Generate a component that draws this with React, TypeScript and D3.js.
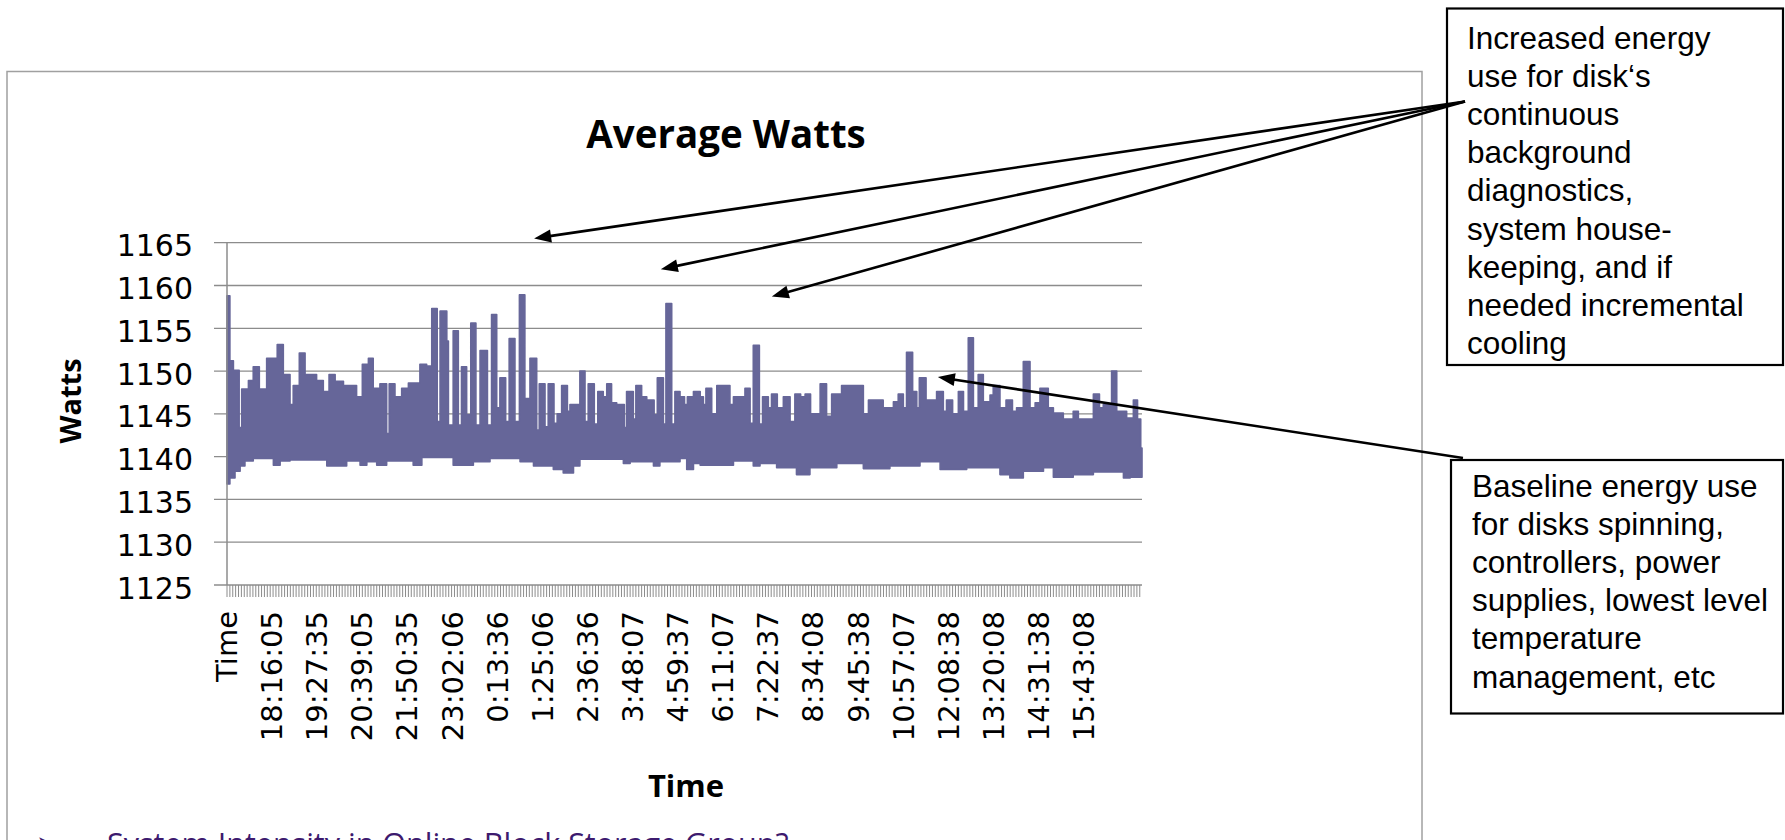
import React from 'react';
import * as d3 from 'd3';

// category axis: first category is the header "Time", then ~30 s samples
const N = 2860;
const LABEL_STEP = 141;
const TICK_STEP = 9;

const timeLabels = [
  'Time', '18:16:05', '19:27:35', '20:39:05', '21:50:35', '23:02:06', '0:13:36',
  '1:25:06', '2:36:36', '3:48:07', '4:59:37', '6:11:07', '7:22:37', '8:34:08',
  '9:45:38', '10:57:07', '12:08:38', '13:20:08', '14:31:38', '15:43:08',
];

const yTicks = [1125, 1130, 1135, 1140, 1145, 1150, 1155, 1160, 1165];

// upper envelope of the watts trace (category index where a level starts, watts)
const highStart = [
  0, 9, 20, 38, 46, 67, 82, 101, 124, 157, 176, 197, 207, 226, 244, 280, 301, 319, 338, 364,
  405, 423, 442, 457, 478, 499, 507, 525, 546, 567, 603, 624, 640, 657, 666, 687, 692, 707, 723, 733,
  749, 762, 778, 791, 814, 827, 843, 853, 871, 882, 900, 914, 931, 947, 968, 976, 994, 1004, 1022, 1032,
  1046, 1064, 1072, 1103, 1119, 1129, 1148, 1159, 1176, 1187, 1202, 1218, 1242, 1249, 1270, 1278, 1296, 1312, 1335, 1345,
  1364, 1372, 1390, 1400, 1416, 1430, 1439, 1458, 1479, 1489, 1497, 1515, 1531, 1572, 1583, 1619, 1635, 1645, 1664, 1674,
  1692, 1702, 1720, 1739, 1760, 1775, 1793, 1807, 1824, 1854, 1874, 1890, 1921, 1989, 2005, 2051, 2083, 2098, 2114, 2124,
  2143, 2156, 2164, 2185, 2218, 2239, 2249, 2268, 2286, 2302, 2317, 2333, 2348, 2364, 2385, 2395, 2416, 2435, 2455, 2468,
  2489, 2510, 2526, 2541, 2567, 2583, 2614, 2645, 2661, 2708, 2727, 2739, 2765, 2781, 2812, 2833, 2846, 2856,
];
const highVal = [
  1158.8, 1151.2, 1150.1, 1143.4, 1147.9, 1148.9, 1150.5, 1147.9, 1151.5, 1153.1, 1149.6, 1146.1, 1148.3, 1152.1, 1149.6, 1148.9, 1147.6, 1149.6, 1148.8, 1148.3,
  1147.0, 1150.8, 1151.5, 1148.0, 1148.5, 1142.7, 1148.5, 1147.0, 1148.0, 1148.6, 1150.8, 1150.6, 1157.3, 1144.1, 1157.0, 1153.5, 1143.7, 1154.7, 1143.7, 1150.5,
  1144.9, 1155.6, 1143.7, 1152.4, 1143.7, 1156.6, 1145.7, 1149.2, 1144.1, 1153.8, 1144.1, 1158.9, 1146.8, 1151.5, 1143.1, 1148.5, 1143.5, 1148.5, 1143.9, 1145.0,
  1148.3, 1145.3, 1146.1, 1150.0, 1144.1, 1148.5, 1143.8, 1147.6, 1147.0, 1148.5, 1146.3, 1146.1, 1143.4, 1147.6, 1144.4, 1148.3, 1147.0, 1146.6, 1144.9, 1149.2,
  1143.8, 1157.9, 1143.8, 1147.6, 1147.0, 1146.1, 1147.0, 1147.6, 1147.0, 1146.1, 1148.0, 1145.0, 1148.3, 1146.1, 1147.0, 1148.0, 1143.9, 1153.0, 1143.8, 1147.0,
  1145.7, 1147.3, 1145.7, 1147.0, 1144.1, 1147.3, 1147.0, 1147.3, 1145.0, 1148.5, 1144.7, 1147.3, 1148.3, 1145.0, 1146.6, 1145.7, 1146.4, 1147.3, 1145.7, 1152.2,
  1147.6, 1145.7, 1149.2, 1146.6, 1147.6, 1145.3, 1146.6, 1145.0, 1147.6, 1145.3, 1153.9, 1145.7, 1149.6, 1146.4, 1147.2, 1148.3, 1145.7, 1146.6, 1145.3, 1145.7,
  1151.1, 1145.7, 1146.3, 1148.0, 1145.7, 1145.1, 1144.4, 1145.3, 1144.4, 1147.3, 1145.7, 1146.1, 1150.0, 1145.3, 1144.5, 1146.6, 1144.4, 1141.0,
];

// lower envelope
const lowStart = [
  0, 9, 25, 41, 56, 82, 145, 166, 197, 312, 374, 416, 437, 468, 499, 582, 609, 707, 770, 822,
  916, 958, 1020, 1051, 1083, 1103, 1239, 1260, 1333, 1353, 1416, 1437, 1458, 1479, 1583, 1645, 1666, 1718, 1780, 1822,
  1906, 1989, 2072, 2166, 2229, 2312, 2416, 2447, 2489, 2552, 2583, 2645, 2708, 2802, 2823,
];
const lowVal = [
  1136.8, 1137.5, 1138.3, 1138.9, 1139.5, 1139.8, 1139.0, 1139.5, 1139.6, 1138.9, 1139.5, 1139.0, 1139.4, 1139.0, 1139.5, 1139.0, 1139.9, 1139.0, 1139.4, 1139.8,
  1139.4, 1138.9, 1138.5, 1138.1, 1138.9, 1139.7, 1139.2, 1139.4, 1138.9, 1139.4, 1139.8, 1138.5, 1139.2, 1139.0, 1139.5, 1138.9, 1139.2, 1138.7, 1137.9, 1138.7,
  1139.2, 1138.6, 1138.9, 1139.4, 1138.5, 1138.7, 1137.9, 1137.5, 1138.3, 1138.7, 1137.6, 1137.9, 1138.2, 1137.5, 1137.6,
];

const noteTop = [
  'Increased energy', 'use for disk‘s', 'continuous', 'background', 'diagnostics,',
  'system house-', 'keeping, and if', 'needed incremental', 'cooling',
];
const noteBottom = [
  'Baseline energy use', 'for disks spinning,', 'controllers, power',
  'supplies, lowest level', 'temperature', 'management, etc',
];
// where the callout arrows point: [category index, watts]
const topArrowTargets = [[960, 1165.5], [1356, 1161.9], [1703, 1158.7]];
const bottomArrowTarget = [2222, 1149.3];

const W = 1785;
const H = 840;
const plot = { left: 227, right: 1142, top: 242.7, bottom: 585 };
const fill = '#666699';
const grid = '#8c8c8c';

function stepAt(starts, vals, i) {
  const k = d3.bisectRight(starts, i) - 1;
  return vals[Math.max(0, k)];
}

function Arrow({ x1, y1, x2, y2 }) {
  const a = Math.atan2(y2 - y1, x2 - x1);
  const len = 17, half = 6.5;
  const bx = x2 - len * Math.cos(a), by = y2 - len * Math.sin(a);
  const px = -Math.sin(a) * half, py = Math.cos(a) * half;
  return (
    <g>
      <line x1={x1} y1={y1} x2={bx + 3 * Math.cos(a)} y2={by + 3 * Math.sin(a)} stroke="#000" strokeWidth={2.6} />
      <polygon points={`${x2},${y2} ${bx + px},${by + py} ${bx - px},${by - py}`} fill="#000" />
    </g>
  );
}

export default function App() {
  const x = d3.scaleLinear().domain([0, N]).range([plot.left, plot.right]);
  const y = d3.scaleLinear().domain([1125, 1165]).range([plot.bottom, plot.top]);

  // merge both envelopes into one band
  const breaks = Array.from(new Set([...highStart, ...lowStart])).sort((a, b) => a - b);
  const band = breaks.map(i => ({ i, hi: stepAt(highStart, highVal, i), lo: stepAt(lowStart, lowVal, i) }));
  band.push({ i: N, hi: band[band.length - 1].hi, lo: band[band.length - 1].lo });

  const area = d3.area()
    .x(d => x(d.i))
    .y0(d => y(d.lo))
    .y1(d => y(d.hi))
    .curve(d3.curveStepAfter);

  const xTicks = d3.range(0, N + 1, TICK_STEP);
  const labelFont = '"DejaVu Sans", sans-serif';
  const titleFont = '"Open Sans", sans-serif';

  const topOrigin = [1465, 101.5];
  const bottomOrigin = [1463, 458];

  return (
    <div style={{ position: 'fixed', left: 0, top: 0 }}>
      <svg width={W} height={H} style={{ display: 'block', background: '#fff' }}>
        {/* chart frame */}
        <rect x={7} y={71.5} width={1415} height={900} fill="#fff" stroke="#a0a0a0" strokeWidth={1.5} />

        <text x={726} y={148} textAnchor="middle" fontFamily={titleFont} fontWeight={700} fontSize={38.5}>
          Average Watts
        </text>

        {/* gridlines */}
        {yTicks.map(t => (
          <line key={t} x1={plot.left - 13} x2={plot.right} y1={y(t)} y2={y(t)} stroke={grid} strokeWidth={1.3} />
        ))}
        {yTicks.map(t => (
          <text key={'l' + t} x={193} y={y(t) + 3} textAnchor="end" dominantBaseline="central"
            fontFamily={labelFont} fontSize={30}>{t}</text>
        ))}

        {/* watts trace */}
        <path d={area(band)} fill={fill} stroke={fill} strokeWidth={1.6} strokeLinejoin="round" />

        {/* axes */}
        <line x1={plot.left} x2={plot.left} y1={plot.top} y2={plot.bottom} stroke={grid} strokeWidth={1.5} />
        {xTicks.map(t => (
          <line key={'t' + t} x1={x(t)} x2={x(t)} y1={plot.bottom} y2={plot.bottom + 12} stroke={grid} strokeWidth={1} />
        ))}
        {timeLabels.map((lab, k) => {
          const px = x(k * LABEL_STEP);
          return (
            <text key={lab} transform={`translate(${px + 10},611) rotate(-90)`} textAnchor="end"
              fontFamily={labelFont} fontSize={29}>{lab}</text>
          );
        })}

        <text transform="translate(81,401) rotate(-90)" textAnchor="middle" fontFamily={titleFont}
          fontWeight={700} fontSize={29}>Watts</text>
        <text x={686} y={797} textAnchor="middle" fontFamily={titleFont} fontWeight={700} fontSize={31}>Time</text>

        {/* slide text below the chart, cut off by the page edge as in the slide */}
        <text x={36} y={855} fontFamily={labelFont} fontSize={28} fill="#3d1a6e">➤</text>
        <text x={107} y={855} fontFamily={titleFont} fontSize={30.5} fill="#3d1a6e">
          System Intensity in Online Block Storage Group?
        </text>

        {/* callouts */}
        <rect x={1447} y={8.5} width={336} height={356.5} fill="#fff" stroke="#000" strokeWidth={2.2} />
        {noteTop.map((s, k) => (
          <text key={s} x={1467} y={48.5 + k * 38.2} fontFamily='"Liberation Sans", Arial, sans-serif' fontSize={31.5}>{s}</text>
        ))}
        <rect x={1451} y={460} width={332} height={253.5} fill="#fff" stroke="#000" strokeWidth={2.2} />
        {noteBottom.map((s, k) => (
          <text key={s} x={1472} y={497 + k * 38.1} fontFamily='"Liberation Sans", Arial, sans-serif' fontSize={31.5}>{s}</text>
        ))}

        {topArrowTargets.map(([i, v], k) => (
          <Arrow key={k} x1={topOrigin[0]} y1={topOrigin[1]} x2={x(i)} y2={y(v)} />
        ))}
        <Arrow x1={bottomOrigin[0]} y1={bottomOrigin[1]} x2={x(bottomArrowTarget[0])} y2={y(bottomArrowTarget[1])} />
      </svg>
    </div>
  );
}
